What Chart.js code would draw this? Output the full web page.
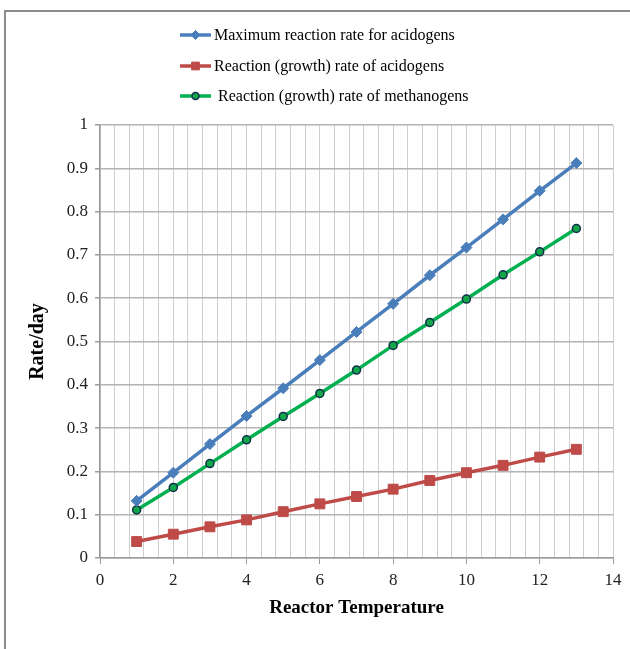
<!DOCTYPE html>
<html>
<head>
<meta charset="utf-8">
<script src="https://cdn.jsdelivr.net/npm/chart.js@4.4.1/dist/chart.umd.min.js"></script>
<style>
  body { margin: 0; background: #fff; }
  #wrap { position: relative; width: 630px; height: 649px; }
  #frame { position: absolute; left: 4px; top: 10px; width: 640px; height: 660px;
           border-top: 2px solid #8c8c8c; border-left: 2px solid #8c8c8c; }
  canvas { position: absolute; left: 0; top: 0; }
</style>
</head>
<body>
<div id="wrap">
  <div id="frame"></div>
  <canvas id="rateChart" width="630" height="649"></canvas>
</div>
<script>
const temperatures = [1, 2, 3, 4, 5, 6, 7, 8, 9, 10, 11, 12, 13];
const maxRateAcidogens = [0.132, 0.197, 0.263, 0.328, 0.392, 0.457, 0.522, 0.587, 0.653, 0.717, 0.782, 0.848, 0.912];
const rateAcidogens = [0.038, 0.055, 0.072, 0.088, 0.107, 0.125, 0.142, 0.159, 0.179, 0.197, 0.214, 0.233, 0.251];
const rateMethanogens = [0.111, 0.163, 0.218, 0.273, 0.327, 0.380, 0.434, 0.491, 0.544, 0.598, 0.654, 0.707, 0.761];
const seriesNames = [
    'Maximum reaction rate for acidogens',
    'Reaction (growth) rate of acidogens',
    'Reaction (growth) rate of methanogens'
];

const serif = "'Liberation Serif', 'Times New Roman', serif";

function toPoints(values) {
    return temperatures.map((t, i) => ({ x: t, y: values[i] }));
}

function isMajor(v) {
    return Math.abs(v / 2 - Math.round(v / 2)) < 1e-6;
}

// legend drawn as line + marker, stacked like the excel one
const lineLegend = {
    id: 'lineLegend',
    afterDraw(chart) {
        const ctx = chart.ctx;
        const rows = [35, 66, 96];
        const textX = [214, 214, 218];
        const markR = [4.5, 5.5, 3.5];
        chart.data.datasets.forEach((ds, i) => {
            const y = rows[i];
            ctx.save();
            ctx.strokeStyle = ds.borderColor;
            ctx.lineWidth = 3.5;
            ctx.beginPath();
            ctx.moveTo(180, y);
            ctx.lineTo(211, y);
            ctx.stroke();
            ctx.fillStyle = ds.pointBackgroundColor;
            ctx.strokeStyle = ds.pointBorderColor;
            ctx.lineWidth = ds.pointBorderWidth;
            Chart.helpers.drawPoint(ctx, {
                pointStyle: ds.pointStyle,
                radius: markR[i],
                borderWidth: ds.pointBorderWidth
            }, 195.5, y);
            ctx.fillStyle = '#000';
            ctx.font = '16px ' + serif;
            ctx.textBaseline = 'middle';
            ctx.fillText(ds.label, textX[i], y + 1);
            ctx.restore();
        });
    }
};

new Chart('rateChart', {
    type: 'scatter',
    data: {
        datasets: [{
            label: seriesNames[0],
            data: toPoints(maxRateAcidogens),
            showLine: true,
            borderColor: '#4a7ebb',
            borderWidth: 3.5,
            pointStyle: 'rectRot',
            pointRadius: 5.5,
            pointBackgroundColor: '#4a7ebb',
            pointBorderColor: '#4a7ebb',
            pointBorderWidth: 1
        }, {
            label: seriesNames[1],
            data: toPoints(rateAcidogens),
            showLine: true,
            borderColor: '#be4b48',
            borderWidth: 3.5,
            pointStyle: 'rect',
            pointRadius: 7,
            pointBackgroundColor: '#be4b48',
            pointBorderColor: '#be4b48',
            pointBorderWidth: 1
        }, {
            label: seriesNames[2],
            data: toPoints(rateMethanogens),
            showLine: true,
            borderColor: '#00b050',
            borderWidth: 3.5,
            pointStyle: 'circle',
            pointRadius: 4,
            pointBackgroundColor: '#12a84a',
            pointBorderColor: '#10304a',
            pointBorderWidth: 1.5
        }]
    },
    options: {
        responsive: false,
        animation: false,
        layout: { padding: { top: 125, right: 17, left: 0, bottom: 0 } },
        plugins: {
            legend: { display: false },
            tooltip: { enabled: false }
        },
        scales: {
            x: {
                type: 'linear',
                min: 0,
                max: 14,
                afterFit: s => { s.height = 91; },
                ticks: {
                    stepSize: 0.4,
                    autoSkip: false,
                    maxRotation: 0,
                    padding: 6,
                    color: '#222',
                    font: { family: serif, size: 17 },
                    callback: v => isMajor(v) ? String(Math.round(v)) : ''
                },
                grid: {
                    color: '#cfcfcf',
                    lineWidth: 1,
                    tickLength: 6,
                    tickColor: c => isMajor(c.tick.value) ? '#9a9a9a' : 'rgba(0,0,0,0)'
                },
                border: { color: '#9a9a9a', width: 1.5 },
                title: {
                    display: true,
                    text: 'Reactor Temperature',
                    color: '#000',
                    font: { family: serif, size: 19, weight: 'bold' },
                    padding: { top: 0, bottom: 30 }
                }
            },
            y: {
                min: 0,
                max: 1,
                afterFit: s => { s.width = 100; },
                ticks: {
                    stepSize: 0.1,
                    padding: 7,
                    color: '#222',
                    font: { family: serif, size: 17 },
                    callback: v => String(Math.round(v * 10) / 10)
                },
                grid: {
                    color: '#b4b4b4',
                    lineWidth: 1.5,
                    tickLength: 5,
                    tickColor: '#9a9a9a'
                },
                border: { color: '#9a9a9a', width: 1.5 },
                title: {
                    display: true,
                    text: 'Rate/day',
                    color: '#000',
                    font: { family: serif, size: 20, weight: 'bold' },
                    padding: { top: 26, bottom: 0 }
                }
            }
        }
    },
    plugins: [lineLegend]
});
</script>
</body>
</html>
